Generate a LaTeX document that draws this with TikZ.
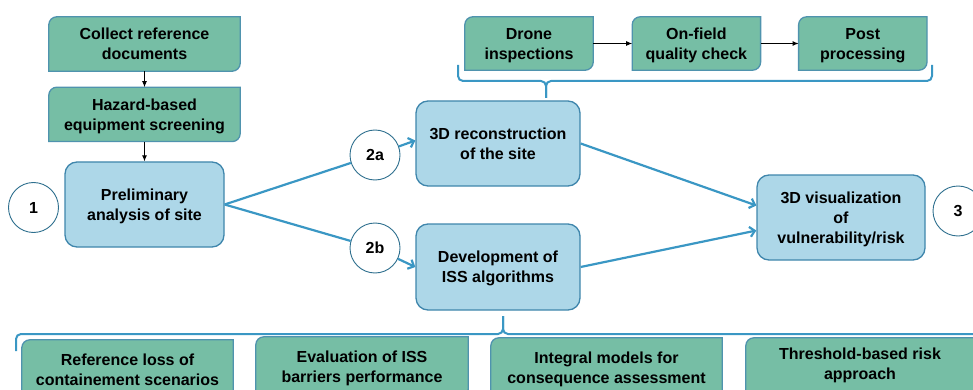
\documentclass[tikz,border=0pt]{standalone}
\usepackage{fontspec}
\setmainfont{Liberation Sans}
\usepackage{xcolor}
\usetikzlibrary{positioning, arrows.meta, backgrounds}
\definecolor{boxgreen}{HTML}{76BEA5}
\definecolor{greenedge}{HTML}{4F93AE}
\definecolor{boxblue}{HTML}{ADD7E8}
\definecolor{blueedge}{HTML}{3F86AC}
\definecolor{linkblue}{HTML}{3A97C4}
\definecolor{ringedge}{HTML}{2E6F8E}

\tikzset{
	txt/.style={font=\bfseries\fontsize{16}{20}\selectfont, align=center, text=black, text depth=0pt},
	greenbox/.style={txt, minimum width=191pt, minimum height=54pt, inner sep=0pt},
	smallgreen/.style={greenbox, minimum width=128pt, minimum height=53pt},
	lowgreen/.style={greenbox, minimum height=60pt},
	bluebox/.style={txt, draw=blueedge, line width=1.3pt, fill=boxblue, rounded corners=12pt, minimum width=164pt, minimum height=85pt},
	ring/.style={txt, circle, draw=ringedge, line width=0.9pt, fill=white, minimum size=50pt, inner sep=0pt},
	link/.style={draw=linkblue, line width=2.2pt},
	blink/.style={link, -{Straight Barb[length=5pt,width=10pt]}},
	flow/.style={-{Latex[length=6pt,width=5pt]}, line width=1pt, black},
	brace/.style={draw=linkblue, line width=2pt, rounded corners=5pt},
	gshape/.style={fill=boxgreen, draw=greenedge, line width=1.3pt}
}

\begin{document}
\begin{tikzpicture}[x=1pt, y=-1pt]
	\useasboundingbox (0,0) rectangle (973,390);
	
	\node[greenbox] (collect) at (144.5,44) {Collect reference\\documents};
	\node[greenbox, below=16pt of collect] (hazard) {Hazard-based\\equipment screening};
	\node[bluebox, minimum width=159pt] (prelim) at (144.5,204.5) {Preliminary\\analysis of site};
	\node[ring] (c1) at (33.5,207.5) {1};
	
	\node[bluebox] (recon) at (498,143.5) {3D reconstruction\\of the site};
	\node[bluebox, minimum height=86pt] (devel) at (498,267) {Development of\\ISS algorithms};
	\node[ring] (c2a) at (375,155) {2a};
	\node[ring] (c2b) at (375,248) {2b};
	
	\node[bluebox, minimum width=168pt] (vis) at (841,217.5) {3D visualization\\of\\vulnerability/risk};
	\node[ring] (c3) at (958,211) {3};
	
	\node[smallgreen] (drone) at (529,43.5) {Drone\\inspections};
	\node[smallgreen, right=39pt of drone] (field) {On-field\\quality check};
	\node[smallgreen, right=38pt of field] (post) {Post\\processing};
	
	\node[lowgreen, minimum width=211pt] (refloss) at (127.5,370) {Reference loss of\\containement scenarios};
	\node[lowgreen, minimum width=212pt] (barrier) at (362,367) {Evaluation of ISS\\barriers performance};
	\node[lowgreen, minimum width=231pt] (integral) at (606.5,368) {Integral models for\\consequence assessment};
	\node[lowgreen, minimum width=228pt, text depth=8pt] (threshold) at (860,368) {Threshold-based risk\\approach};
	
	\begin{scope}[on background layer]
		\foreach \n in {collect, hazard, drone, field, post, refloss, barrier, integral, threshold}
		\draw[gshape] ([yshift=-8pt]\n.north west) arc[start angle=180, end angle=90, radius=8pt] -- (\n.north east) -- ([yshift=8pt]\n.south east) arc[start angle=0, end angle=-90, radius=8pt] -- (\n.south west) -- cycle;
	\end{scope}
	
	\draw[flow] (collect) -- (hazard);
	\draw[flow] (hazard) -- (prelim);
	\draw[flow] (drone) -- (field);
	\draw[flow] (field) -- (post);
	
	\draw[link] (prelim.east) -- (c2a);
	\draw[link] (prelim.east) -- (c2b);
	\draw[blink] (c2a) -- ([yshift=3pt]recon.west);
	\draw[blink] (c2b) -- (devel.west);
	\draw[blink] (recon.east) -- ([yshift=12pt]vis.west);
	\draw[blink] (devel.east) -- ([yshift=-13pt]vis.west);
	
	% braces
	\coordinate (topleft) at (458,65);
	\coordinate (topright) at (932,65);
	\coordinate (topmid) at (546,81);
	\coordinate (toptip) at (546,98);
	\draw[brace] (topleft) |- (topmid) -- (toptip);
	\draw[brace] (topright) |- (topmid) -- (toptip);
	
	\coordinate (botleft) at (16,351);
	\coordinate (botright) at (1000,351);
	\coordinate (botmid) at (503,334);
	\coordinate (bottip) at (503,316);
	\draw[brace] (botleft) |- (botmid) -- (bottip);
	\draw[brace] (botright) |- (botmid) -- (bottip);
\end{tikzpicture}
\end{document}
